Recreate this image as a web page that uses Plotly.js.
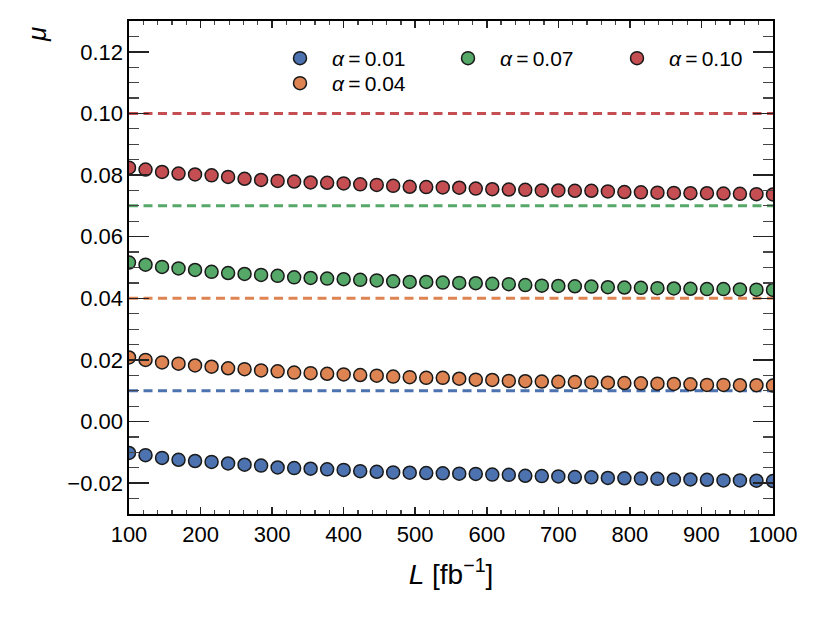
<!DOCTYPE html>
<html>
<head>
<meta charset="utf-8">
<script src="https://cdn.plot.ly/plotly-3.0.1.min.js"></script>
<style>html,body{margin:0;padding:0;background:#fff;}#chart{width:822px;height:617px;}</style>
</head>
<body>
<div id="chart"></div>
<script>
const L = [100.0, 123.1, 146.2, 169.2, 192.3, 215.4, 238.5, 261.5, 284.6, 307.7,
  330.8, 353.8, 376.9, 400.0, 423.1, 446.2, 469.2, 492.3, 515.4, 538.5,
  561.5, 584.6, 607.7, 630.8, 653.8, 676.9, 700.0, 723.1, 746.2, 769.2,
  792.3, 815.4, 838.5, 861.5, 884.6, 907.7, 930.8, 953.8, 976.9, 1000.0];

const alphas = [0.01, 0.04, 0.07, 0.10];
const alphaLabels = ["0.01", "0.04", "0.07", "0.10"];

const mu_a001 = [-0.0102, -0.0109, -0.0118, -0.0124, -0.0128, -0.0131, -0.0136, -0.0140, -0.0143, -0.0149,
  -0.0151, -0.0153, -0.0155, -0.0157, -0.0161, -0.0163, -0.0165, -0.0166, -0.0167, -0.0168,
  -0.0169, -0.0170, -0.0172, -0.0173, -0.0176, -0.0177, -0.0178, -0.0180, -0.0181, -0.0183,
  -0.0184, -0.0185, -0.0186, -0.0188, -0.0188, -0.0189, -0.0191, -0.0191, -0.0192, -0.0193];
const mu_a004 = [0.0208, 0.0200, 0.0192, 0.0188, 0.0182, 0.0178, 0.0173, 0.0170, 0.0166, 0.0163,
  0.0159, 0.0157, 0.0155, 0.0153, 0.0151, 0.0149, 0.0146, 0.0144, 0.0142, 0.0142,
  0.0139, 0.0136, 0.0135, 0.0132, 0.0131, 0.0130, 0.0129, 0.0128, 0.0127, 0.0126,
  0.0125, 0.0124, 0.0123, 0.0122, 0.0121, 0.0119, 0.0119, 0.0118, 0.0118, 0.0117];
const mu_a007 = [0.0516, 0.0509, 0.0502, 0.0497, 0.0492, 0.0486, 0.0482, 0.0479, 0.0476, 0.0473,
  0.0468, 0.0466, 0.0464, 0.0462, 0.0460, 0.0458, 0.0455, 0.0453, 0.0453, 0.0451,
  0.0450, 0.0449, 0.0447, 0.0446, 0.0443, 0.0441, 0.0440, 0.0439, 0.0438, 0.0436,
  0.0435, 0.0434, 0.0433, 0.0432, 0.0431, 0.0430, 0.0430, 0.0429, 0.0428, 0.0427];
const mu_a010 = [0.0824, 0.0818, 0.0810, 0.0805, 0.0802, 0.0799, 0.0794, 0.0788, 0.0784, 0.0781,
  0.0779, 0.0776, 0.0775, 0.0773, 0.0770, 0.0768, 0.0765, 0.0762, 0.0761, 0.0760,
  0.0759, 0.0756, 0.0754, 0.0753, 0.0752, 0.0750, 0.0750, 0.0749, 0.0749, 0.0747,
  0.0745, 0.0744, 0.0743, 0.0742, 0.0741, 0.0741, 0.0740, 0.0739, 0.0738, 0.0737];

const series = [mu_a001, mu_a004, mu_a007, mu_a010];
const colors = ["#4C72B0", "#DD8452", "#55A868", "#C44E52"];
const legendIds = ["legend", "legend2", "legend3", "legend4"];

const traces = [];
// reference dashed lines at mu = alpha
alphas.forEach((a, i) => {
  traces.push({
    x: [L[0], L[L.length - 1]], y: [a, a], mode: "lines", showlegend: false, hoverinfo: "skip",
    line: {color: colors[i], width: 3, dash: "9px,5.5px"}
  });
});
series.forEach((s, i) => {
  traces.push({
    x: L, y: s, mode: "markers", name: "<i>α</i>\u2009=\u2009" + alphaLabels[i],
    legend: legendIds[i], cliponaxis: true,
    marker: {color: colors[i], size: 13, line: {color: "#1a1a1a", width: 1.5}}
  });
});

const fam = "Liberation Sans, Arial, Helvetica, sans-serif";
const font = {family: fam, color: "#000"};
const legBase = {orientation: "v", xanchor: "left", yanchor: "top", bgcolor: "rgba(0,0,0,0)",
  borderwidth: 0, itemwidth: 54, font: {family: fam, size: 21, color: "#000"}, tracegroupgap: 0};
const px = v => (v - 129) / 644;
const py = v => (514 - v) / 493;

const layout = {
  width: 822, height: 617,
  margin: {l: 129, r: 49, t: 21, b: 103},
  paper_bgcolor: "#fff", plot_bgcolor: "#fff",
  font: font,
  showlegend: true,
  xaxis: {
    range: [100, 1000], tickmode: "linear", tick0: 100, dtick: 100,
    ticks: "inside", ticklen: 7, tickwidth: 1.5, tickcolor: "#222",
    showline: true, linecolor: "#000", linewidth: 1.6, mirror: "allticks",
    showgrid: false, zeroline: false,
    tickfont: {family: fam, size: 22, color: "#000"},
    minor: {dtick: 20, ticks: "inside", ticklen: 4, tickwidth: 1.2, tickcolor: "#444", showgrid: false},
    title: {text: "<i>L</i> [fb<sup>−1</sup>]", font: {family: fam, size: 28, color: "#000"}, standoff: 18}
  },
  yaxis: {
    range: [-0.03, 0.13], tickmode: "linear", tick0: 0, dtick: 0.02, tickformat: ".2f",
    ticks: "inside", ticklen: 20, tickwidth: 1.5, tickcolor: "#222",
    showline: true, linecolor: "#000", linewidth: 1.6, mirror: "allticks",
    showgrid: false, zeroline: false,
    tickfont: {family: fam, size: 22, color: "#000"},
    minor: {dtick: 0.005, ticks: "inside", ticklen: 10, tickwidth: 1.2, tickcolor: "#444", showgrid: false}
  },
  legend: Object.assign({}, legBase, {x: px(268), y: py(38)}),
  legend2: Object.assign({}, legBase, {x: px(268), y: py(63)}),
  legend3: Object.assign({}, legBase, {x: px(436), y: py(38)}),
  legend4: Object.assign({}, legBase, {x: px(605), y: py(38)}),
  annotations: [{
    text: "<i>μ</i>", xref: "paper", yref: "paper", x: px(37), y: py(35),
    xanchor: "center", yanchor: "middle", showarrow: false, textangle: -90,
    font: {family: fam, size: 26, color: "#000"}
  }]
};

Plotly.newPlot("chart", traces, layout, {staticPlot: true, displayModeBar: false});
</script>
</body>
</html>
